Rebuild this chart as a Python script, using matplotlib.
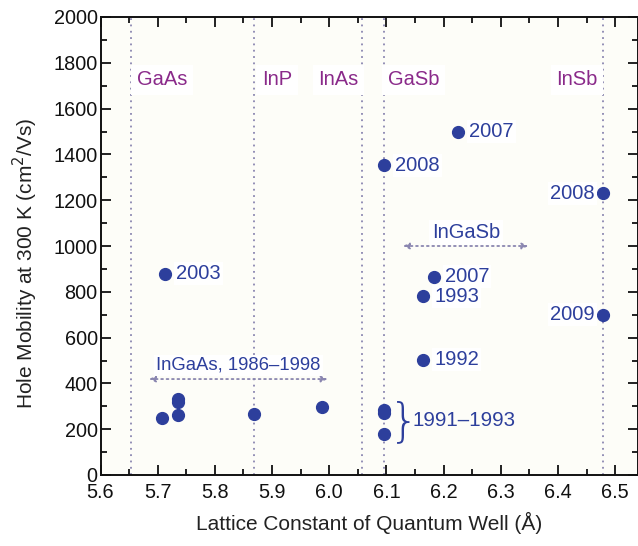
import matplotlib
matplotlib.use("Agg")
import matplotlib.pyplot as plt
from matplotlib.ticker import MultipleLocator

plt.rcParams['font.family'] = ['Liberation Sans', 'DejaVu Sans']

# Lattice constants of the binary compounds (Å)
materials = ["GaAs", "InP", "InAs", "GaSb", "InSb"]
lattice = [5.653, 5.869, 6.058, 6.096, 6.479]
material_label_x = [5.664, 5.882, 5.981, 6.103, 6.397]

# Reported hole mobilities (lattice constant, mobility)
ingaas_x = [5.707, 5.735, 5.735, 5.735, 5.869, 5.988, 5.713]
ingaas_y = [248, 263, 320, 330, 266, 295, 878]

gasb_x = [6.096, 6.096, 6.096, 6.096, 6.225]
gasb_y = [270, 282, 178, 1352, 1498]

ingasb_x = [6.164, 6.164, 6.183]
ingasb_y = [504, 780, 866]

insb_x = [6.479, 6.479]
insb_y = [700, 1230]

# Year labels: (x, y, text, side)
year_labels = [
    (5.713, 878, "2003", "right"),
    (6.096, 1352, "2008", "right"),
    (6.225, 1498, "2007", "right"),
    (6.183, 866, "2007", "right"),
    (6.164, 780, "1993", "right"),
    (6.164, 504, "1992", "right"),
    (6.479, 1230, "2008", "left"),
    (6.479, 700, "2009", "left"),
]

purple = "#8a2a8a"
blue = "#2d3f9c"
line_c = "#8a86b0"

fig = plt.figure(figsize=(6.38, 5.46), dpi=100)
ax = fig.add_axes([100.5 / 638, 71 / 546, 537.5 / 638, 458 / 546])
ax.set_facecolor("#fdfdf8")
ax.set_xlim(5.6, 6.54)
ax.set_ylim(0, 2000)

for x in lattice:
    ax.axvline(x, color=line_c, ls=(0, (1, 2.5)), lw=1.3, zorder=1)

for name, lx in zip(materials, material_label_x):
    ax.text(lx, 1725, name, color=purple, fontsize=14.5, va="center", ha="left",
            bbox=dict(facecolor="white", edgecolor="none", pad=4), zorder=2)

ms = 8.5
for xs, ys in [(ingaas_x, ingaas_y), (gasb_x, gasb_y), (ingasb_x, ingasb_y), (insb_x, insb_y)]:
    ax.plot(xs, ys, "o", color=blue, ms=ms, ls="none", zorder=4)

for x, y, t, side in year_labels:
    off = 8 if side == "right" else -6
    ax.annotate(t, (x, y), xytext=(off, 0), textcoords="offset points",
                ha="left" if side == "right" else "right", va="center",
                color=blue, fontsize=14.5, zorder=5,
                bbox=dict(facecolor="white", edgecolor="none", pad=1.5))

# Composition range arrows
def range_arrow(x0, x1, y):
    ax.annotate("", xy=(x0, y), xytext=(x1, y),
                arrowprops=dict(arrowstyle="<|-|>", color=line_c, lw=1.3,
                                ls=(0, (1, 2)), mutation_scale=9,
                                shrinkA=0, shrinkB=0), zorder=3)

range_arrow(5.685, 5.997, 419)
ax.text(5.841, 480, "InGaAs, 1986–1998", ha="center", va="center", color=blue,
        fontsize=13.3, bbox=dict(facecolor="white", edgecolor="none", pad=1.5), zorder=3)

range_arrow(6.129, 6.348, 1000)
ax.text(6.239, 1060, "InGaSb", ha="center", va="center", color=blue,
        fontsize=14.5, bbox=dict(facecolor="white", edgecolor="none", pad=2), zorder=3)

ax.text(6.104, 232, "}", ha="left", va="center", color=blue, fontsize=34, zorder=5,
        family="DejaVu Sans", fontweight="light")
ax.text(6.146, 240, "1991–1993", ha="left", va="center", color=blue, fontsize=14.8,
        zorder=5)

ax.xaxis.set_major_locator(MultipleLocator(0.1))
ax.xaxis.set_minor_locator(MultipleLocator(0.05))
ax.yaxis.set_major_locator(MultipleLocator(200))
ax.yaxis.set_minor_locator(MultipleLocator(100))
ax.set_xticks([5.6 + 0.1 * i for i in range(10)])
ax.set_xticklabels([f"{5.6 + 0.1 * i:.1f}" for i in range(10)])
ax.tick_params(which="both", direction="in", top=True, right=True, width=1.3,
               labelsize=14.3, colors="#111111")
ax.tick_params(which="major", length=7)
ax.tick_params(which="minor", length=4)
ax.tick_params(axis="x", pad=6)
ax.tick_params(axis="y", pad=2)
for s in ax.spines.values():
    s.set_linewidth(1.4)
    s.set_color("#111111")

ax.set_xlabel("Lattice Constant of Quantum Well (Å)", fontsize=15, color="#222222", va="center")
ax.set_ylabel("Hole Mobility at 300 K (cm$^2$/Vs)", fontsize=15, color="#222222", va="center")
ax.xaxis.set_label_coords(0.5, -0.105)
ax.yaxis.set_label_coords(-0.14, 0.463)

fig.savefig("out.png", dpi=100)
